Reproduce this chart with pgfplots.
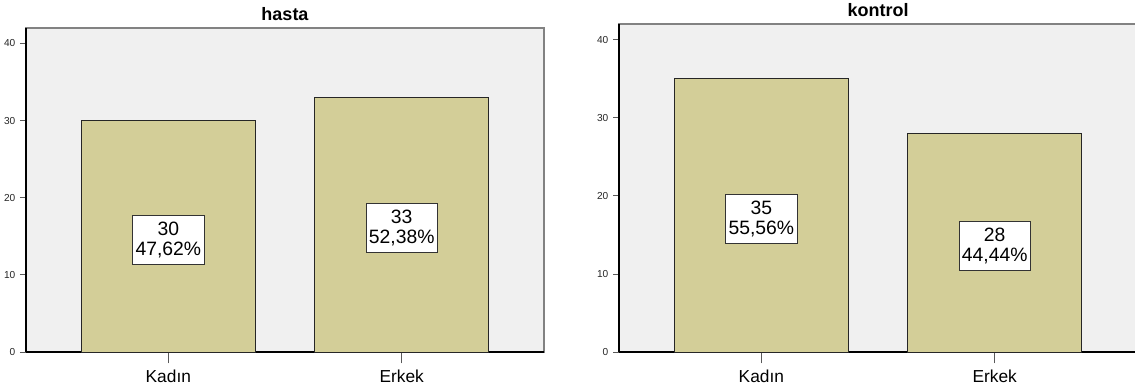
\documentclass[border=0pt]{standalone}
\usepackage{fontspec}
\setmainfont{Liberation Sans}
\usepackage{pgfplots}
\usepackage{pgfplotstable}
\pgfplotsset{compat=1.18}

\definecolor{barfill}{RGB}{211,206,152}
\definecolor{plotbg}{RGB}{240,240,240}
\definecolor{framegray}{RGB}{130,130,130}

% counts and row percentages per group
\pgfplotstableread{
x n pct
0 30 47.62
1 33 52.38
}\hasta
\pgfplotstableread{
x n pct
0 35 55.56
1 28 44.44
}\kontrol

\pgfplotsset{
  spssbar/.style={
    scale only axis, width=388.5pt, anchor=south west,
    xmin=-0.61, xmax=1.61, ymin=0, ymax=42,
    axis x line=bottom, axis y line=left,
    axis line style={-, black, line width=0.8pt},
    axis background/.style={fill=plotbg, draw=framegray, line width=1.3pt},
    xtick={0,1}, xticklabels={Kadın,Erkek},
    % category ticks are drawn as longer minor ticks
    minor xtick={0,1}, major x tick style={draw=none},
    ytick={0,10,20,30,40},
    tick align=outside,
    major tick length=4.5pt,
    minor tick length=8.5pt,
    tick style={black!65, line width=0.6pt},
    xticklabel style={font=\fontsize{13}{13}\selectfont, anchor=base, yshift=-18.5pt},
    yticklabel style={font=\fontsize{7.6}{8}\selectfont, text=black!85},
    /pgf/number format/assume math mode=true,
    every axis title/.style={font=\bfseries\fontsize{13.5}{14}\selectfont, at={(0.5,1)}, anchor=base, yshift=5.25pt},
    clip=false,
  },
  countbar/.style={ybar, bar width=0.746, fill=barfill, draw=black!85, line width=0.7pt},
  countlabel/.style={
    draw=none, mark=none,
    point meta=\thisrow{n},
    visualization depends on={\thisrow{pct}\as\pct},
    nodes near coords={\pgfmathprintnumber{\pgfplotspointmeta}\\\pgfmathprintnumber[fixed,fixed zerofill,precision=2,use comma]{\pct}\%},
    every node near coord/.append style={anchor=center, draw=black!80, fill=white, align=center,
      font=\fontsize{14.5}{15}\selectfont, inner xsep=2.2pt, minimum height=36.75pt, yshift=-2.5pt, line width=0.6pt},
  },
}

\begin{document}
\begin{tikzpicture}
\useasboundingbox (0,0) rectangle (851.25pt,294pt);

\begin{axis}[spssbar, at={(19.5pt,30pt)}, height=243pt, title={hasta}]
  \addplot[countbar] table[x=x, y=n]{\hasta};
  \addplot[countlabel] table[x=x, y expr=\thisrow{n}/2]{\hasta};
\end{axis}

\begin{axis}[spssbar, at={(464.25pt,30pt)}, height=246pt, title={kontrol}]
  \addplot[countbar] table[x=x, y=n]{\kontrol};
  \addplot[countlabel] table[x=x, y expr=\thisrow{n}/2]{\kontrol};
\end{axis}
\end{tikzpicture}
\end{document}
